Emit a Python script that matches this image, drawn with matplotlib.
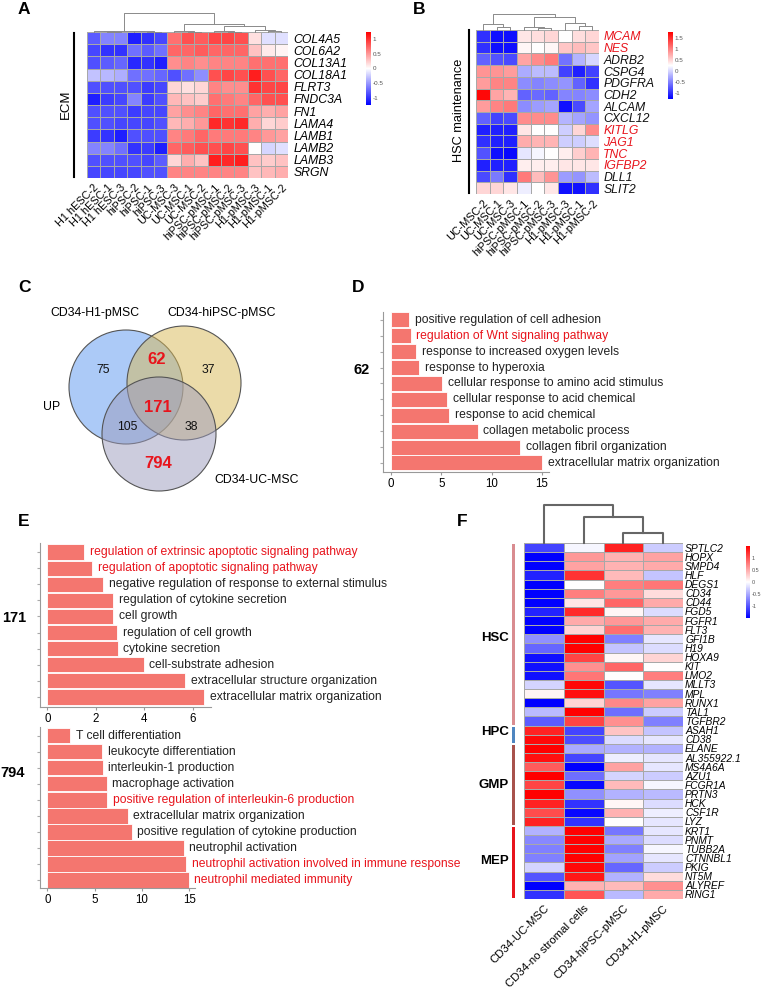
import numpy as np
import matplotlib.pyplot as plt
from matplotlib.colors import LinearSegmentedColormap
from matplotlib.patches import Circle, Rectangle

plt.rcParams['font.family'] = ['Liberation Sans', 'DejaVu Sans']

W, H = 762, 992
RED = '#e8141c'
BAR = '#f4766f'

# ---------------- panel A : ECM genes
a_genes = ['COL4A5', 'COL6A2', 'COL13A1', 'COL18A1', 'FLRT3', 'FNDC3A', 'FN1',
           'LAMA4', 'LAMB1', 'LAMB2', 'LAMB3', 'SRGN']
a_samples = ['H1 hESC-2', 'H1 hESC-1', 'H1 hESC-3', 'hiPSC-2', 'hiPSC-1', 'hiPSC-3',
             'UC-MSC-3', 'UC-MSC-1', 'UC-MSC-2', 'hiPSC-pMSC-1', 'hiPSC-pMSC-2',
             'hiPSC-pMSC-3', 'H1-pMSC-3', 'H1-pMSC-1', 'H1-pMSC-2']
a_vals = np.array([
    [-0.8, -0.6, -0.6, -1.1, -1.0, -0.9, 0.7, 0.85, 0.8, 0.9, 0.9, 0.85, 0.15, -0.15, -0.15],
    [-0.9, -1.0, -1.0, -0.7, -0.8, -0.7, 0.75, 0.75, 0.8, 0.75, 0.75, 0.75, 0.3, 0.1, 0.05],
    [-0.85, -0.8, -0.75, -1.05, -1.0, -1.1, 0.55, 0.6, 0.55, 0.6, 0.6, 0.6, 0.7, 0.7, 0.7],
    [-0.3, -0.35, -0.4, -0.7, -0.7, -0.75, -0.85, -0.7, -0.55, 0.85, 0.9, 0.85, 1.1, 0.85, 0.75],
    [-0.85, -0.85, -0.85, -0.85, -0.95, -0.9, 0.2, 0.15, 0.2, 0.6, 0.55, 0.55, 1.0, 0.9, 0.9],
    [-1.1, -0.95, -0.9, -0.6, -0.95, -0.85, 0.35, 0.3, 0.25, 0.7, 0.65, 0.6, 0.75, 0.85, 0.85],
    [-0.85, -0.85, -0.85, -0.95, -0.9, -0.9, 0.45, 0.55, 0.6, 0.75, 0.7, 0.7, 0.45, 0.4, 0.45],
    [-0.85, -0.85, -0.9, -0.9, -0.9, -0.85, 0.35, 0.4, 0.5, 1.05, 1.0, 1.05, 0.4, 0.2, 0.25],
    [-0.95, -1.0, -1.1, -0.85, -0.85, -0.85, 0.6, 0.65, 0.75, 0.65, 0.65, 0.65, 0.6, 0.5, 0.45],
    [-0.6, -0.6, -0.7, -1.0, -0.95, -1.1, 0.75, 0.8, 0.85, 0.85, 0.9, 0.85, 0.0, -0.2, -0.15],
    [-0.85, -0.85, -0.85, -0.85, -0.9, -0.8, 0.2, 0.4, 0.3, 1.1, 1.05, 1.1, 0.3, 0.25, 0.3],
    [-0.9, -0.9, -0.9, -0.9, -0.85, -0.85, 0.6, 0.6, 0.6, 0.6, 0.6, 0.6, 0.3, 0.35, 0.4],
])
# merges: (left, right, height)
a_tree = [(1, 2, 0.5), (0, 15, 1.0), (4, 5, 0.5), (3, 17, 1.0), (16, 18, 1.5),
          (7, 8, 0.5), (6, 20, 1.0), (10, 11, 0.5), (9, 22, 0.8), (13, 14, 1.5),
          (12, 24, 2.5), (23, 25, 6.3), (21, 26, 7.7), (19, 27, 19)]

# ---------------- panel B : HSC maintenance
b_genes = ['MCAM', 'NES', 'ADRB2', 'CSPG4', 'PDGFRA', 'CDH2', 'ALCAM', 'CXCL12',
           'KITLG', 'JAG1', 'TNC', 'IGFBP2', 'DLL1', 'SLIT2']
b_red = ['MCAM', 'NES', 'KITLG', 'JAG1', 'TNC', 'IGFBP2']
b_samples = ['UC-MSC-2', 'UC-MSC-1', 'UC-MSC-3', 'hiPSC-pMSC-1', 'hiPSC-pMSC-2',
             'hiPSC-pMSC-3', 'H1-pMSC-3', 'H1-pMSC-1', 'H1-pMSC-2']
b_vals = np.array([
    [-1.0, -1.2, -1.2, 0.4, 0.45, 0.5, 0.25, 0.45, 0.5],
    [-1.0, -1.2, -1.2, 0.3, 0.25, 0.3, 0.6, 0.65, 0.6],
    [-0.7, -0.8, -0.85, 0.8, 0.95, 1.05, -0.6, -0.2, 0.0],
    [0.9, 0.9, 0.85, -0.25, -0.15, -0.15, -0.9, -1.1, -0.9],
    [0.85, 1.0, 1.0, -0.45, -0.5, -0.45, -0.4, -0.7, -1.0],
    [1.75, 0.8, 0.7, -0.7, -0.65, -0.7, -0.5, -0.5, -0.45],
    [0.85, 1.0, 1.05, -0.45, -0.35, -0.3, -1.2, -0.85, -0.3],
    [-0.7, -0.9, -0.85, 0.95, 0.95, 0.95, -0.2, -0.3, -0.4],
    [-1.1, -1.1, -1.1, 0.4, 0.25, 0.25, -0.05, 0.5, 0.95],
    [-1.0, -1.1, -1.1, 0.75, 0.7, 0.7, -0.05, -0.05, 0.05],
    [-0.8, -1.2, -1.25, 0.1, 0.2, 0.25, 0.35, 0.55, 0.7],
    [-1.1, -1.1, -1.1, 0.35, 0.35, 0.35, 0.4, 0.4, 0.4],
    [-0.85, -0.55, -1.0, 1.05, 0.65, 0.9, -0.35, -0.4, -0.15],
    [0.5, 0.5, 0.4, 0.15, 0.25, 0.4, -1.2, -1.2, -1.0],
])
b_tree = [(1, 2, 3.3), (0, 9, 5.7), (4, 5, 2.5), (3, 11, 3.3), (7, 8, 4.0),
          (6, 13, 7.3), (12, 14, 13.3), (10, 15, 16)]

# ---------------- panel C : venn counts
venn_sets = ['CD34-H1-pMSC', 'CD34-hiPSC-pMSC', 'CD34-UC-MSC']
venn_counts = {'100': 75, '110': 62, '010': 37, '111': 171, '101': 105, '011': 38, '001': 794}
venn_hot = ['110', '111', '001']

# ---------------- panel D : GO terms of 62 genes
d_terms = ['positive regulation of cell adhesion', 'regulation of Wnt signaling pathway',
           'response to increased oxygen levels', 'response to hyperoxia',
           'cellular response to amino acid stimulus', 'cellular response to acid chemical',
           'response to acid chemical', 'collagen metabolic process',
           'collagen fibril organization', 'extracellular matrix organization']
d_vals = [1.8, 1.95, 2.5, 2.8, 5.1, 5.6, 5.8, 8.6, 12.85, 15.0]
d_red = ['regulation of Wnt signaling pathway']

# ---------------- panel E : GO terms of 171 and 794 genes
e1_terms = ['regulation of extrinsic apoptotic signaling pathway',
            'regulation of apoptotic signaling pathway',
            'negative regulation of response to external stimulus',
            'regulation of cytokine secretion', 'cell growth', 'regulation of cell growth',
            'cytokine secretion', 'cell-substrate adhesion',
            'extracellular structure organization', 'extracellular matrix organization']
e1_vals = [1.53, 1.84, 2.31, 2.72, 2.72, 2.87, 2.9, 3.97, 5.69, 6.46]
e1_red = ['regulation of extrinsic apoptotic signaling pathway',
          'regulation of apoptotic signaling pathway']

e2_terms = ['T cell differentiation', 'leukocyte differentiation', 'interleukin-1 production',
            'macrophage activation', 'positive regulation of interleukin-6 production',
            'extracellular matrix organization', 'positive regulation of cytokine production',
            'neutrophil activation', 'neutrophil activation involved in immune response',
            'neutrophil mediated immunity']
e2_vals = [2.4, 5.8, 5.85, 6.3, 6.35, 8.5, 8.9, 14.4, 14.65, 14.95]
e2_red = ['positive regulation of interleukin-6 production',
          'neutrophil activation involved in immune response', 'neutrophil mediated immunity']

# ---------------- panel F : haematopoietic genes
f_genes = ['SPTLC2', 'HOPX', 'SMPD4', 'HLF', 'DEGS1', 'CD34', 'CD44', 'FGD5', 'FGFR1',
           'FLT3', 'GFI1B', 'H19', 'HOXA9', 'KIT', 'LMO2', 'MLLT3', 'MPL', 'RUNX1', 'TAL1',
           'TGFBR2', 'ASAH1', 'CD38', 'ELANE', 'AL355922.1', 'MS4A6A', 'AZU1', 'FCGR1A',
           'PRTN3', 'HCK', 'CSF1R', 'LYZ', 'KRT1', 'PNMT', 'TUBB2A', 'CTNNBL1', 'PKIG',
           'NT5M', 'ALYREF', 'RING1']
f_samples = ['CD34-UC-MSC', 'CD34-no stromal cells', 'CD34-hiPSC-pMSC', 'CD34-H1-pMSC']
f_groups = ['HSC', 'HPC', 'GMP', 'MEP']
f_group_sizes = [20, 2, 9, 8]
f_group_colors = ['#d98c90', '#4f86c0', '#a8524c', '#e8141c']
f_vals = np.array([
    [-1.1, -0.05, 1.3, -0.3], [-1.5, 0.6, 0.45, 0.55], [-1.5, 0.55, 0.45, 0.5],
    [-1.3, 1.2, 0.4, -0.35], [-1.5, 0.0, 0.75, 0.8], [-1.5, 0.75, 0.6, 0.2],
    [-1.5, 0.15, 0.9, 0.5], [-1.3, 1.25, 0.05, -0.2], [-1.5, 0.5, 0.6, 0.5],
    [-1.5, 0.25, 0.85, 0.45], [-0.65, 1.5, -0.75, -0.15], [-0.9, 1.5, -0.35, -0.2],
    [-1.4, 1.1, 0.05, 0.25], [-1.4, 0.65, 0.9, 0.0], [-1.4, 0.8, 0.0, 0.75],
    [-0.25, 1.45, -1.0, -0.15], [0.07, 1.4, -0.8, -0.75], [-1.5, 0.25, 0.7, 0.55],
    [-0.4, 1.5, -0.85, -0.3], [-0.95, 1.1, 0.65, -0.75], [1.3, -1.1, 0.35, -0.35],
    [1.45, -1.05, -0.2, -0.15], [1.5, -0.5, -0.45, -0.45], [1.4, -1.1, -0.1, -0.15],
    [0.95, -1.5, 0.55, -0.15], [1.5, -0.85, -0.25, -0.3], [1.1, -1.45, 0.4, -0.05],
    [1.5, -0.65, -0.45, -0.4], [1.3, -1.2, 0.05, -0.2], [1.05, -1.45, 0.45, -0.1],
    [1.3, -1.2, 0.0, -0.15], [-0.45, 1.5, -0.8, -0.15], [-0.7, 1.5, -0.5, -0.2],
    [-0.75, 1.5, -0.75, -0.05], [-0.75, 1.5, -0.55, -0.15], [-0.25, 1.45, -0.9, -0.3],
    [-1.0, 1.35, -0.45, 0.2], [-1.5, 0.45, 0.4, 0.65], [-1.2, 1.0, -0.4, 0.5],
])
f_tree = [(2, 3, 10), (1, 4, 26), (0, 5, 38)]

cmap = LinearSegmentedColormap.from_list('bwr_pure', ['#0000ff', '#ffffff', '#ff0000'])


def px(x0, y0, x1, y1):
    return [x0 / W, 1 - y1 / H, (x1 - x0) / W, (y1 - y0) / H]


fig = plt.figure(figsize=(W / 100, H / 100), dpi=100)


def heatmap(rect, vals, rows, cols, vmin, vmax, row_fs, col_fs, row_pad, row_colors=None):
    ax = fig.add_axes(px(*rect))
    m = ax.pcolormesh(vals, cmap=cmap, vmin=vmin, vmax=vmax,
                      edgecolors='#a8a8a8', linewidth=0.4)
    ax.set_xlim(0, vals.shape[1])
    ax.set_ylim(vals.shape[0], 0)
    ax.set_yticks(np.arange(len(rows)) + 0.5)
    ax.set_yticklabels(rows, fontsize=row_fs, style='italic')
    ax.yaxis.tick_right()
    ax.set_xticks(np.arange(len(cols)) + 0.5)
    ax.set_xticklabels(cols, rotation=45, ha='right', rotation_mode='anchor', fontsize=col_fs)
    ax.tick_params(axis='y', length=0, pad=row_pad)
    ax.tick_params(axis='x', length=0, pad=3)
    for s in ax.spines.values():
        s.set_visible(False)
    if row_colors is not None:
        for t, c in zip(ax.get_yticklabels(), row_colors):
            t.set_color(c)
    return ax, m


def dendro(rect, n, tree, top, lw, color):
    ax = fig.add_axes(px(*rect))
    pos = {i: (i + 0.5, 0.0) for i in range(n)}
    for k, (l, r, h) in enumerate(tree):
        xl, hl = pos[l]
        xr, hr = pos[r]
        ax.plot([xl, xl, xr, xr], [hl, h, h, hr], color=color, lw=lw, clip_on=False)
        pos[n + k] = ((xl + xr) / 2, h)
    ax.set_xlim(0, n)
    ax.set_ylim(0, top)
    ax.axis('off')


def cbar(rect, m, ticks, fs=4.5):
    cax = fig.add_axes(px(*rect))
    cb = fig.colorbar(m, cax=cax, ticks=ticks)
    cb.outline.set_visible(False)
    cb.ax.set_yticklabels([f'{t:g}' for t in ticks])
    cax.tick_params(labelsize=fs, length=0, pad=1.2, colors='#555555')


def go_bars(rect, terms, vals, red_terms, xlim, ylim, xticks):
    ax = fig.add_axes(px(*rect))
    ax.set_facecolor('none')
    y = np.arange(len(terms))
    ax.barh(y, vals, height=0.94, color=BAR, edgecolor='white', linewidth=0.6)
    for yi, v, t in zip(y, vals, terms):
        ax.annotate(t, (v, yi), xytext=(4, 0), textcoords='offset points', va='center',
                    fontsize=8.7, color=RED if t in red_terms else '#222222',
                    annotation_clip=False)
    ax.set_xlim(*xlim)
    ax.set_ylim(*ylim)
    ax.set_xticks(xticks)
    ax.set_yticks(y)
    ax.set_yticklabels([])
    ax.tick_params(axis='y', length=2, color='#aaaaaa')
    ax.tick_params(axis='x', length=2, color='#999999', labelsize=8.3, pad=2)
    for s in ['top', 'right']:
        ax.spines[s].set_visible(False)
    for s in ['left', 'bottom']:
        ax.spines[s].set_color('#999999')


# ---- A
ax_a, m_a = heatmap((87, 32, 288, 178), a_vals, a_genes, a_samples, -1.25, 1.25, 8.8, 7.8, 4)
dendro((87, 13, 288, 32), len(a_samples), a_tree, 19, 0.7, '#8a8a8a')
cbar((366, 32, 371, 105), m_a, [-1, -0.5, 0, 0.5, 1])

# ---- B
ax_b, m_b = heatmap((476, 30, 599, 194), b_vals, b_genes, b_samples, -1.3, 1.8, 8.8, 7.8, 3,
                    [RED if g in b_red else '#111111' for g in b_genes])
dendro((476, 14, 599, 30), len(b_samples), b_tree, 16, 0.7, '#8a8a8a')
cbar((668, 32, 673, 99), m_b, [-1, -0.5, 0, 0.5, 1, 1.5])

# ---- D, E
go_bars((383, 312, 549, 472), d_terms, d_vals, d_red, (-0.8, 15.7), (9.57, -0.5), [0, 5, 10, 15])
go_bars((40, 543, 211, 707), e1_terms, e1_vals, e1_red, (-0.3, 6.74), (9.62, -0.56), [0, 2, 4, 6])
go_bars((40, 727, 195, 888), e2_terms, e2_vals, e2_red, (-0.77, 15.6), (9.5, -0.56), [0, 5, 10, 15])

# ---- F
ax_f, m_f = heatmap((524, 543, 683, 899), f_vals, f_genes, f_samples, -1.5, 1.5, 7.4, 8.2, 1.5)
dendro((524, 503, 683, 543), len(f_samples), f_tree, 40, 1.5, '#666666')
cbar((746, 546, 750, 618), m_f, [-1, -0.5, 0, 0.5, 1], fs=4)

# ---- overlay for letters, venn, side bars
ov = fig.add_axes([0, 0, 1, 1])
ov.set_xlim(0, W)
ov.set_ylim(H, 0)
ov.axis('off')
ov.set_facecolor('none')


def t(x, y, s, **kw):
    kw.setdefault('ha', 'center')
    kw.setdefault('va', 'center')
    ov.text(x, y, s, **kw)


for letter, (x, y) in zip('ABCDEF', [(18, 10), (413, 10), (18, 288), (352, 288), (18, 522), (457, 522)]):
    t(x, y, letter, ha='left', fontsize=12.5, fontweight='bold')

# A / B side annotations
ov.plot([74, 74], [33, 177], color='black', lw=1.5)
t(66, 104, 'ECM', rotation=90, fontsize=9.5)
ov.plot([469, 469], [30, 193], color='black', lw=1.5)
t(459, 110, 'HSC maintenance', rotation=90, fontsize=9.2)

# C venn
for (cx, cy), col in zip([(126, 387), (184, 383), (159, 434)],
                         ['#5a96f0', '#d9b955', '#9b9bbd']):
    ov.add_patch(Circle((cx, cy), 57, facecolor=col, alpha=0.5, edgecolor='none'))
    ov.add_patch(Circle((cx, cy), 57, facecolor='none', edgecolor='#555555', lw=0.8))
t(95, 313, venn_sets[0], fontsize=8.8)
t(222, 313, venn_sets[1], fontsize=8.8)
t(257, 480, venn_sets[2], fontsize=8.8)
t(52, 407, 'UP', fontsize=8.8)
venn_pos = {'100': (103, 370), '110': (157, 360), '010': (208, 370), '111': (158, 407),
            '101': (127, 427), '011': (191, 427), '001': (158, 463)}
for key, (x, y) in venn_pos.items():
    if key in venn_hot:
        t(x, y, str(venn_counts[key]), fontsize=12, fontweight='bold', color=RED)
    else:
        t(x, y, str(venn_counts[key]), fontsize=8.8, color='#111111')

# D / E set labels
t(353, 370, str(venn_counts['110']), ha='left', fontsize=10.5, fontweight='bold')
t(2, 618, str(venn_counts['111']), ha='left', fontsize=10.5, fontweight='bold')
t(0, 773, str(venn_counts['001']), ha='left', fontsize=10.5, fontweight='bold')

# F group bars
row_h = (899 - 543) / len(f_genes)
start = 0
label_y = {'HSC': 638, 'HPC': 732, 'GMP': 785, 'MEP': 861}
for g, n, col in zip(f_groups, f_group_sizes, f_group_colors):
    y0 = 543 + start * row_h + 1
    y1 = 543 + (start + n) * row_h - 1
    ov.add_patch(Rectangle((512, y0), 3.2, y1 - y0, facecolor=col, edgecolor='none'))
    t(509, label_y[g], g, ha='right', fontsize=9.5, fontweight='bold')
    start += n

fig.savefig('out.png', dpi=100)
